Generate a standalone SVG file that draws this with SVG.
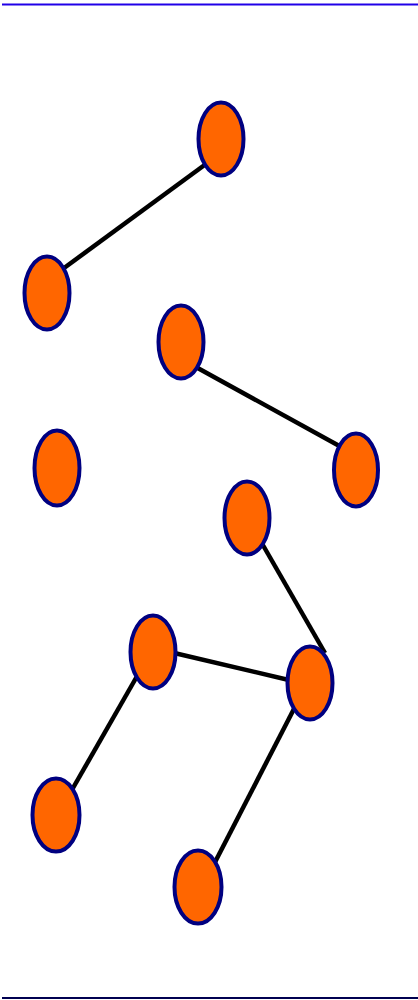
<svg xmlns="http://www.w3.org/2000/svg" width="418" height="1000" viewBox="0 0 418 1000">
<style>
.n{fill:#ff6600;stroke:#000080;stroke-width:4}
.e{stroke:#000;stroke-width:4.5;fill:none}
</style>
<rect width="418" height="1000" fill="#fff"/>
<line x1="2" y1="4.5" x2="418" y2="4.5" stroke="#2000e8" stroke-width="2"/>
<line x1="2" y1="998" x2="418" y2="998" stroke="#000050" stroke-width="2"/>
<g id="edges">
<line class="e" x1="210" y1="161" x2="60" y2="271"/>
<line class="e" x1="194" y1="366" x2="343" y2="448"/>
<line class="e" x1="260" y1="540" x2="325" y2="653"/>
<line class="e" x1="170" y1="652" x2="293" y2="681"/>
<line class="e" x1="140" y1="671" x2="69" y2="795"/>
<line class="e" x1="297" y1="703" x2="212" y2="868"/>
</g>
<g id="n1"><ellipse class="n" cx="221" cy="139" rx="22.5" ry="36.5"/></g>
<g id="n2"><ellipse class="n" cx="47" cy="293" rx="22.5" ry="36.5"/></g>
<g id="n3"><ellipse class="n" cx="181" cy="342" rx="22.5" ry="36.5"/></g>
<g id="n4"><ellipse class="n" cx="57" cy="468" rx="22.5" ry="37.5"/></g>
<g id="n5"><ellipse class="n" cx="356" cy="470" rx="22" ry="36.5"/></g>
<g id="n6"><ellipse class="n" cx="247" cy="518" rx="22.5" ry="36.5"/></g>
<g id="n7"><ellipse class="n" cx="153" cy="652" rx="22.5" ry="36.5"/></g>
<g id="n8"><ellipse class="n" cx="310" cy="683" rx="22.5" ry="36.5"/></g>
<g id="n9"><ellipse class="n" cx="56" cy="815" rx="23.5" ry="36.5"/></g>
<g id="n10"><ellipse class="n" cx="198" cy="887" rx="23.5" ry="36.5"/></g>
</svg>
